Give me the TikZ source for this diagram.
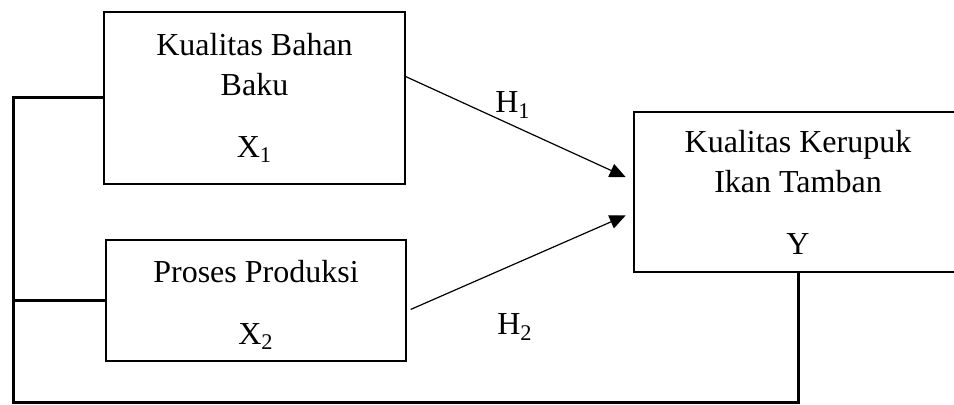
\documentclass[tikz,border=0pt]{standalone}
\usepackage{fontspec}
\setmainfont{Liberation Serif}
\usetikzlibrary{arrows.meta}
\begin{document}
\begin{tikzpicture}[x=0.5pt,y=-0.5pt,
    every node/.style={font=\fontsize{16}{20}\selectfont},
    box/.style={draw,line width=1pt,align=center,inner sep=0pt},
    link/.style={line width=1.5pt},
    hyp/.style={line width=0.6pt,-{Triangle[length=8pt,width=7pt]},shorten >=4pt}]
  \useasboundingbox (0,0) rectangle (954,405);
  \node[box,minimum width=150.5pt,minimum height=86pt] (kb) at (254.5,98)
    {Kualitas Bahan\\Baku\\[11pt]X\textsubscript{1}};
  \node[box,minimum width=150pt,minimum height=60.5pt] (pp) at (256,300.5)
    {\rule{0pt}{15.5pt}Proses Produksi\\[11pt]X\textsubscript{2}};
  \node[box,minimum width=164pt,minimum height=80pt] (ky) at (798,192)
    {Kualitas Kerupuk\\Ikan Tamban\\[11pt]Y};
  % hipotesis
  \draw[hyp] (kb.8.7) -- (ky.176.5);
  \draw[hyp,shorten <=2pt] (pp.-4.8) -- (ky.187);
  \node (h1) at (513,105) {H\textsubscript{1}};
  \node (h2) at (515,327) {H\textsubscript{2}};
  % garis penghubung
  \coordinate (corner) at (13,403);
  \draw[link] (kb.west) -| (corner) -| (ky.south);
  \draw[link] (pp.west) -- (pp.west -| corner);
\end{tikzpicture}
\end{document}
